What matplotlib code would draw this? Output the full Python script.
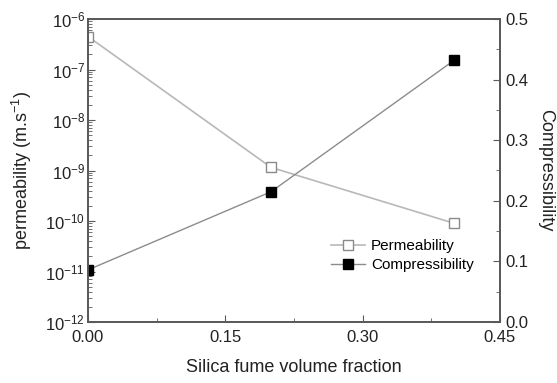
import numpy as np
import matplotlib
matplotlib.use("Agg")
import matplotlib.pyplot as plt
from matplotlib.ticker import LogLocator, FixedLocator, MultipleLocator, FuncFormatter

plt.rcParams['font.family'] = ['Liberation Sans', 'DejaVu Sans']
plt.rcParams['mathtext.fontset'] = 'custom'
plt.rcParams['mathtext.rm'] = 'Liberation Sans'
plt.rcParams['mathtext.it'] = 'Liberation Sans'

# data
silica = [0.0, 0.2, 0.4]
permeability = [4.5e-7, 1.15e-9, 9.0e-11]
compressibility = [0.086, 0.215, 0.432]

axis_col = "#5a5a5a"

fig = plt.figure(figsize=(5.57, 3.83), dpi=100)
ax = fig.add_axes([88 / 557, 1 - 322 / 383, 412 / 557, 303 / 383])
ax2 = ax.twinx()

l1, = ax.plot(silica, permeability, color="#b8b8b8", lw=1.2, marker="s",
              ms=6.5, mfc="white", mec="#8a8a8a", mew=1.0, label="Permeability")
l2, = ax2.plot(silica, compressibility, color="#8c8c8c", lw=1.0, marker="s",
               ms=6.5, mfc="black", mec="black", label="Compressibility")

ax.set_yscale("log")
ax.set_ylim(1e-12, 1e-6)
ax.set_xlim(0, 0.45)
ax2.set_ylim(0, 0.5)

ax.xaxis.set_major_locator(FixedLocator([0, 0.15, 0.30, 0.45]))
ax.xaxis.set_minor_locator(MultipleLocator(0.075))
ax.xaxis.set_major_formatter(FuncFormatter(lambda v, p: f"{v:.2f}"))
ax.yaxis.set_major_locator(LogLocator(base=10, numticks=10))
ax.yaxis.set_minor_locator(LogLocator(base=10, subs=np.arange(2, 10), numticks=20))
ax.yaxis.set_major_formatter(FuncFormatter(
    lambda v, p: r"$\mathregular{10^{%d}}$" % round(np.log10(v))))
ax2.yaxis.set_major_locator(MultipleLocator(0.1))
ax2.yaxis.set_minor_locator(MultipleLocator(0.05))
ax2.yaxis.set_major_formatter(FuncFormatter(lambda v, p: f"{v:.1f}"))

for a in (ax, ax2):
    for s in a.spines.values():
        s.set_color(axis_col)
        s.set_linewidth(1.3)
ax.tick_params(axis="x", which="both", direction="in", top=False, colors=axis_col,
               labelcolor="#222222", labelsize=12, pad=6)
ax.tick_params(axis="x", which="major", length=5)
ax.tick_params(axis="x", which="minor", length=3)
ax.tick_params(axis="y", which="major", direction="in", length=5, colors=axis_col,
               labelcolor="#222222", labelsize=12, pad=2)
ax.tick_params(axis="y", which="minor", direction="in", length=3, colors=axis_col)
ax2.tick_params(axis="y", which="major", direction="in", length=5, colors=axis_col,
                labelcolor="#222222", labelsize=12, pad=4)
ax2.tick_params(axis="y", which="minor", direction="in", length=3, colors=axis_col)

ax.set_xlabel("Silica fume volume fraction", fontsize=13, color="#222222", labelpad=10)
ax.set_ylabel(r"permeability (m.s$^{\mathregular{-1}}$)", fontsize=13, color="#222222",
              labelpad=8)
ax2.set_ylabel("Compressibility", fontsize=13, color="#222222", rotation=270,
               labelpad=18)

ax2.legend(handles=[l1, l2], loc="lower right", bbox_to_anchor=(0.97, 0.12),
           frameon=False, fontsize=11, handlelength=2.2, handletextpad=0.4,
           labelspacing=0.3)

fig.savefig("out.png", dpi=100)
